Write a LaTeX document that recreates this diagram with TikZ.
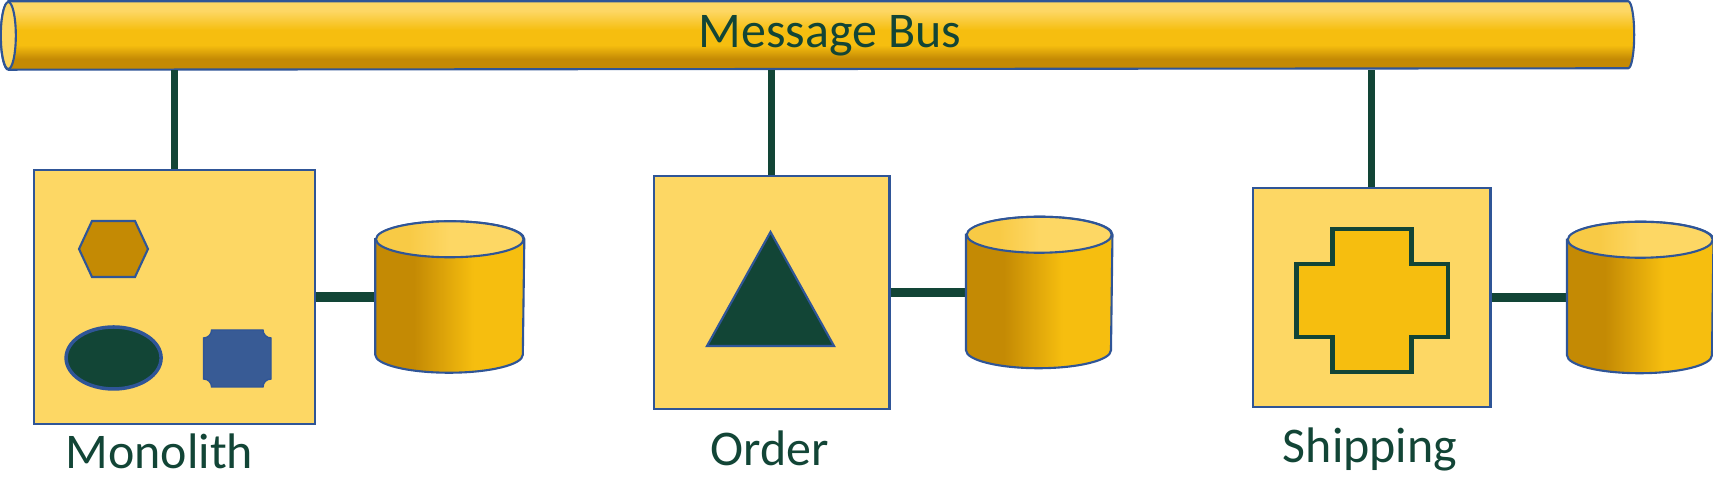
\documentclass[tikz,border=0pt]{standalone}
\usepackage{fontspec}
\setmainfont{Carlito}
\usetikzlibrary{positioning}
\definecolor{boxfill}{HTML}{FDD764}
\definecolor{dbgold}{HTML}{F6BE0F}
\definecolor{dbdark}{HTML}{C48A04}
\definecolor{dbtopside}{HTML}{F8CA45}
\definecolor{lineblue}{HTML}{2F5597}
\definecolor{textgreen}{HTML}{124536}
\definecolor{plaqueblue}{HTML}{385B95}
\pgfdeclarehorizontalshading{dbbody}{100bp}{color(0bp)=(dbdark); color(25bp)=(dbdark); color(38bp)=(dbdark); color(58bp)=(dbgold); color(75bp)=(dbgold); color(100bp)=(dbgold)}
\pgfdeclarehorizontalshading{dbtop}{100bp}{color(0bp)=(dbtopside); color(25bp)=(dbtopside); color(36bp)=(dbtopside); color(50bp)=(boxfill); color(100bp)=(boxfill)}
\pgfdeclareverticalshading{bustube}{100bp}{color(0bp)=(dbdark); color(25bp)=(dbdark); color(33bp)=(dbdark); color(43bp)=(dbgold); color(54bp)=(dbgold); color(68bp)=(boxfill); color(100bp)=(boxfill)}
\tikzset{
    service/.style={draw=lineblue, line width=0.6pt, fill=boxfill, inner sep=0pt},
    db/.style={minimum height=1.5cm, inner sep=0pt},
    buslink/.style={draw=textgreen, line width=2pt},
    dblink/.style={draw=textgreen, line width=2.8pt},
    labeltext/.style={text=textgreen, font=\fontsize{14.2pt}{17pt}\selectfont, inner sep=0pt}
}
\newcommand{\dbcyl}[2]{%
    \shade[shading=dbbody, draw=lineblue, line width=0.6pt]
        ([yshift=-0.18cm]#1.north west) -- ([yshift=0.18cm]#1.south west)
        arc[start angle=180, end angle=360, x radius=#2, y radius=18]
        -- ([yshift=-0.18cm]#1.north east)
        arc[start angle=0, end angle=180, x radius=#2, y radius=18] -- cycle;
    \shade[shading=dbtop, draw=lineblue, line width=0.6pt]
        ([yshift=-0.18cm]#1.north) ellipse[x radius=#2, y radius=18];
}

\begin{document}
\begin{tikzpicture}[x=0.01cm, y=0.01cm]
\useasboundingbox (0,0) rectangle (1713,480);

\node[minimum width=16.175cm, minimum height=0.67cm, inner sep=0pt] (bus) at (818.25,444.5) {};
\node[service, minimum width=2.813cm, minimum height=2.54cm] (mono) at (174.4,183) {};
\node[service, minimum width=2.35cm, minimum height=2.33cm] (order) at (771.9,187.5) {};
\node[service, minimum width=2.374cm, minimum height=2.19cm] (ship) at (1371.7,182.5) {};
\node[db, minimum width=1.476cm, right=0.59cm of mono] (monodb) {};
\node[db, minimum width=1.45cm, right=0.754cm of order] (orderdb) {};
\node[db, minimum width=1.45cm, right=0.754cm of ship] (shipdb) {};

\shade[shading=bustube, draw=lineblue, line width=0.6pt]
    (bus.north west) -- (bus.north east)
    arc[start angle=90, end angle=-90, x radius=6, y radius=33.5]
    -- (bus.south west)
    arc[start angle=270, end angle=90, x radius=7.5, y radius=33.5] -- cycle;
\filldraw[fill=boxfill, draw=lineblue, line width=0.6pt] (bus.west) ellipse[x radius=7.5, y radius=33.5];
\node[labeltext, anchor=base] (buslabel) at (830,432) {Message Bus};

\draw[buslink] (mono.north) -- (mono.north |- bus.south);
\draw[buslink] (order.north) -- (order.north |- bus.south);
\draw[buslink] (ship.north) -- (ship.north |- bus.south);
\draw[dblink] (mono.east) -- (monodb.west);
\draw[dblink] (order.east) -- (orderdb.west);
\draw[dblink] (ship.east) -- (shipdb.west);

\dbcyl{monodb}{73.8}
\dbcyl{orderdb}{72.5}
\dbcyl{shipdb}{72.5}

\filldraw[fill=dbdark, draw=lineblue, line width=0.6pt]
    (79,231) -- (92,259) -- (135,259) -- (148,231) -- (135,203) -- (92,203) -- cycle;
\filldraw[fill=textgreen, draw=lineblue, line width=1pt] (113.6,122) ellipse[x radius=47.5, y radius=31];
\filldraw[fill=plaqueblue, draw=lineblue, line width=0.4pt]
    (211.6,93) -- (263,93) arc[start angle=180, end angle=90, radius=8]
    -- (271,142) arc[start angle=270, end angle=180, radius=8]
    -- (211.6,150) arc[start angle=0, end angle=-90, radius=8]
    -- (203.6,101) arc[start angle=90, end angle=0, radius=8] -- cycle;
\filldraw[fill=textgreen, draw=lineblue, line width=0.6pt] (770.5,248) -- (834,134) -- (707,134) -- cycle;
\filldraw[fill=dbgold, draw=textgreen, line width=1.4pt]
    (1332.4,251) -- (1411.4,251) -- (1411.4,216) -- (1448,216) -- (1448,143) -- (1411.4,143)
    -- (1411.4,108) -- (1332.4,108) -- (1332.4,143) -- (1296.5,143) -- (1296.5,216) -- (1332.4,216) -- cycle;

\node[labeltext, anchor=base] (monolabel) at (159.5,11) {Monolith};
\node[labeltext, anchor=base] (orderlabel) at (769.7,14) {Order};
\node[labeltext, anchor=base] (shiplabel) at (1370,17) {Shipping};
\end{tikzpicture}
\end{document}
